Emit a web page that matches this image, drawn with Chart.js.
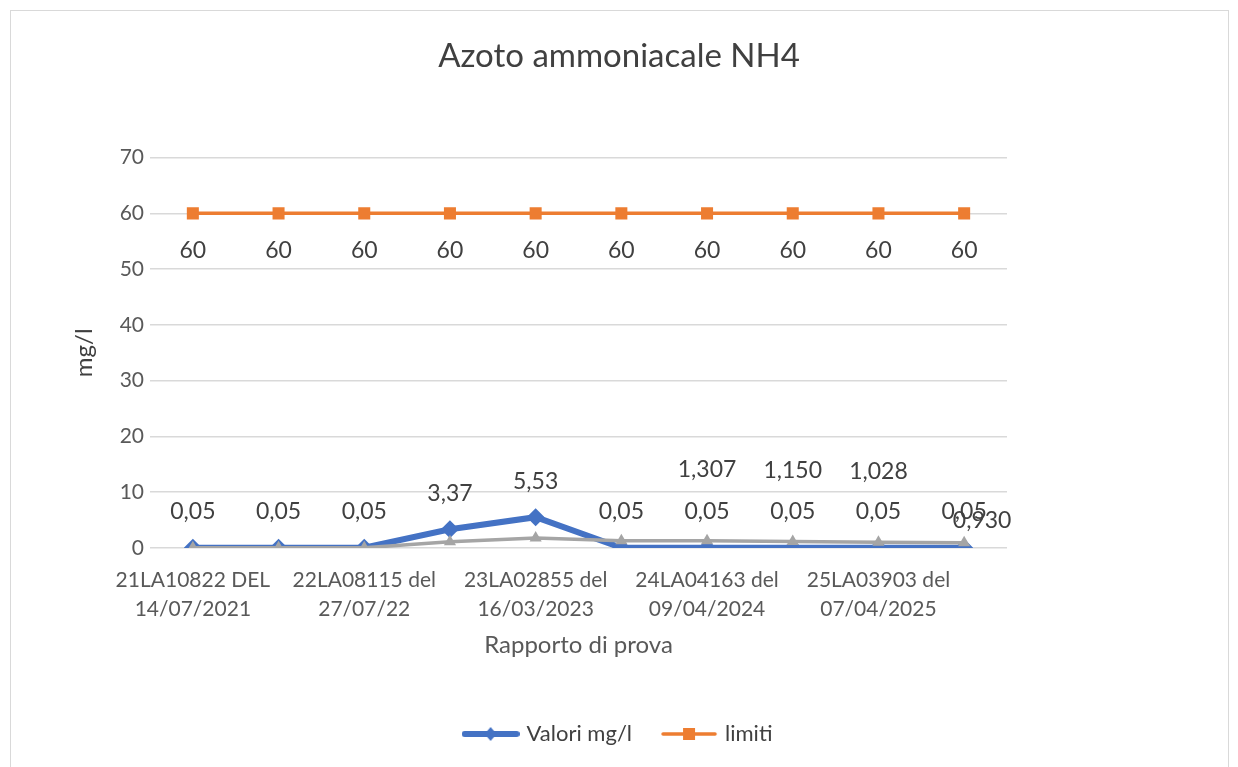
<!DOCTYPE html>
<html>
<head>
<meta charset="utf-8">
<script src="https://cdn.jsdelivr.net/npm/chart.js@4.4.1/dist/chart.umd.min.js"></script>
<style>
  html, body { margin: 0; padding: 0; background: #fff; overflow: hidden; }
  #frame { position: absolute; left: 10px; top: 10px; width: 1217px; height: 800px; border: 1px solid #d9d9d9; }
  #myChart { position: absolute; left: 0; top: 0; }
</style>
</head>
<body>
<div id="frame"></div>
<canvas id="myChart" width="1238" height="767"></canvas>
<script>
// categorie (solo le etichette visibili nel grafico originale)
const categories = [
    ['21LA10822 DEL', '14/07/2021'], '',
    ['22LA08115 del', '27/07/22'], '',
    ['23LA02855 del', '16/03/2023'], '',
    ['24LA04163 del', '09/04/2024'], '',
    ['25LA03903 del', '07/04/2025'], ''
];
const valori = [0.05, 0.05, 0.05, 3.37, 5.53, 0.05, 0.05, 0.05, 0.05, 0.05];
const limiti = [60, 60, 60, 60, 60, 60, 60, 60, 60, 60];
const serieGrigia = [0.05, 0.05, 0.05, 1.1, 1.8, 1.3, 1.307, 1.150, 1.028, 0.930];
const etichetteGrigie = [null, null, null, null, null, null, '1,307', '1,150', '1,028', '0,930'];
const yTicks = [0, 10, 20, 30, 40, 50, 60, 70];

const BLU = '#4472C4', ARANCIO = '#ED7D31', GRIGIO = '#A5A5A5';
const FONT = 'Lato, "Open Sans", sans-serif';

function fmt(v, dec) { return v.toFixed(dec).replace('.', ','); }

// icona legenda: linea + marcatore
function legendIcon(color, lineW, shape) {
    const c = document.createElement('canvas');
    c.width = 58; c.height = 20;
    const g = c.getContext('2d');
    g.strokeStyle = color; g.lineWidth = lineW; g.lineCap = 'round';
    g.beginPath(); g.moveTo(3, 10); g.lineTo(55, 10); g.stroke();
    g.fillStyle = color;
    if (shape === 'diamond') {
        g.beginPath(); g.moveTo(29, 3); g.lineTo(35, 10); g.lineTo(29, 17); g.lineTo(23, 10); g.closePath(); g.fill();
    } else {
        g.fillRect(23, 4, 12, 12);
    }
    return c;
}

// etichette dati, come in Excel
const dataLabels = {
    id: 'dataLabels',
    afterDatasetsDraw(chart) {
        const ctx = chart.ctx;
        ctx.save();
        ctx.font = '23px ' + FONT;
        ctx.fillStyle = '#404040';
        ctx.textAlign = 'center';
        ctx.textBaseline = 'middle';
        chart.getDatasetMeta(0).data.forEach((p, i) => {
            ctx.fillText(fmt(valori[i], 2), p.x, p.y - 36);
        });
        chart.getDatasetMeta(1).data.forEach((p, i) => {
            ctx.fillText(fmt(limiti[i], 0), p.x, p.y + 37);
        });
        chart.getDatasetMeta(2).data.forEach((p, i) => {
            if (!etichetteGrigie[i]) return;
            if (i === 9) ctx.fillText(etichetteGrigie[i], p.x + 18, p.y - 22);
            else ctx.fillText(etichetteGrigie[i], p.x, p.y - 71);
        });
        ctx.restore();
    }
};

const ctx = document.getElementById('myChart').getContext('2d');
new Chart(ctx, {
    type: 'line',
    data: {
        labels: categories,
        datasets: [{
            label: 'Valori mg/l',
            data: valori,
            borderColor: BLU, backgroundColor: BLU,
            borderWidth: 6, pointStyle: 'rectRot', pointRadius: 9,
            pointBorderWidth: 0, order: 0
        }, {
            label: 'limiti',
            data: limiti,
            borderColor: ARANCIO, backgroundColor: ARANCIO,
            borderWidth: 3.5, pointStyle: 'rect', pointRadius: 8.5,
            pointBorderWidth: 0
        }, {
            label: 'serie3',
            data: serieGrigia,
            borderColor: GRIGIO, backgroundColor: GRIGIO,
            borderWidth: 3.5, pointStyle: 'triangle', pointRadius: 7,
            pointBorderWidth: 0, order: -1
        }]
    },
    options: {
        responsive: false,
        animation: false,
        layout: { padding: { left: 20, right: 20, top: 0, bottom: 12 } },
        plugins: {
            tooltip: { enabled: false },
            title: {
                display: true,
                text: 'Azoto ammoniacale NH4',
                color: '#404040',
                font: { family: FONT, size: 33, weight: 'normal' },
                padding: { top: 37, bottom: 81 }
            },
            legend: {
                position: 'bottom',
                labels: {
                    filter: item => item.datasetIndex < 2,
                    usePointStyle: true,
                    pointStyleWidth: 50,
                    generateLabels: chart => [
                        { text: 'Valori mg/l', pointStyle: legendIcon(BLU, 6, 'diamond'), datasetIndex: 0, fontColor: '#404040', lineWidth: 0, strokeStyle: 'transparent', fillStyle: BLU },
                        { text: 'limiti', pointStyle: legendIcon(ARANCIO, 3.5, 'square'), datasetIndex: 1, fontColor: '#404040', lineWidth: 0, strokeStyle: 'transparent', fillStyle: ARANCIO }
                    ],
                    color: '#404040',
                    font: { family: FONT, size: 22 },
                    padding: 32
                }
            }
        },
        scales: {
            x: {
                offset: true,
                grid: { display: false },
                border: { display: false },
                ticks: {
                    autoSkip: false, maxRotation: 0, minRotation: 0,
                    color: '#595959', padding: 10,
                    font: { family: FONT, size: 21, lineHeight: 1.38 }
                },
                title: {
                    display: true, text: 'Rapporto di prova', color: '#595959',
                    font: { family: FONT, size: 24 }, padding: { top: 8, bottom: 31 }
                },
                afterFit: scale => { scale.height = 143; }
            },
            y: {
                min: 0, max: 70,
                afterBuildTicks: scale => { scale.ticks = yTicks.map(v => ({ value: v })); },
                grid: { color: '#d9d9d9', lineWidth: 1.5, drawTicks: false },
                border: { display: false },
                ticks: { color: '#595959', padding: 6, font: { family: FONT, size: 21 } },
                title: {
                    display: true, text: 'mg/l', color: '#404040',
                    font: { family: FONT, size: 24 }, padding: { top: 50, bottom: 0 }
                },
                afterFit: scale => { scale.width = 130; }
            },
            // asse vuoto a destra per lasciare lo spazio bianco come nell'originale
            dx: {
                position: 'right',
                display: true,
                grid: { display: false },
                border: { display: false },
                ticks: { display: false },
                afterFit: scale => { scale.width = 211; }
            }
        }
    },
    plugins: [dataLabels]
});
</script>
</body>
</html>
